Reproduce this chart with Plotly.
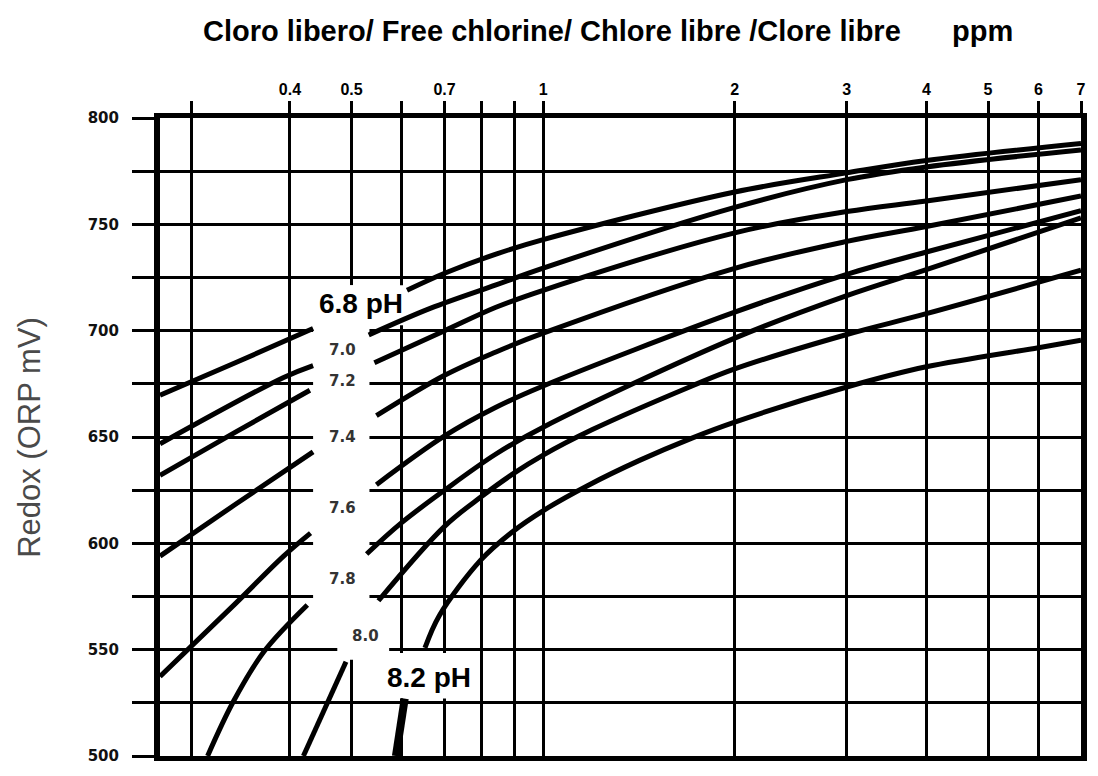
import math
import plotly.graph_objects as go

# ---------------- data ----------------
ph_names = ["6.8", "7.0", "7.2", "7.4", "7.6", "7.8", "8.0", "8.2"]

# free chlorine (ppm) / redox (mV); None = gap where the label sits
x68 = [0.25, 0.329, 0.435, None, 0.611, 0.7, 0.843, 1.0, 2.0, 3.0, 4.0, 7.0]
y68 = [669.6, 685, 701, None, 719, 727, 736, 742.8, 765.2, 774.2, 780, 788]

x70 = [0.25, 0.391, 0.435, None, 0.532, 0.666, 0.843, 1.0, 2.0, 3.0, 4.0, 7.0]
y70 = [646.8, 678, 683.6, None, 698, 710.6, 721.5, 729.4, 758, 771, 777, 785]

x72 = [0.25, 0.329, 0.430, None, 0.543, 0.7, 0.843, 1.0, 2.0, 3.0, 4.0, 7.0]
y72 = [632, 652.4, 672, None, 684.9, 700, 711, 719, 746, 756, 761, 771]

x74 = [0.25, 0.329, 0.435, None, 0.547, 0.7, 0.843, 1.0, 2.0, 3.0, 4.0, 7.0]
y74 = [594, 618.5, 643, None, 660, 679, 690, 698.8, 729.3, 742, 749, 763.3]

x76 = [0.25, 0.329, 0.391, 0.431, None, 0.547, 0.7, 0.843, 1.0, 2.0, 3.0, 4.0, 7.0]
y76 = [537.4, 571.9, 594, 604.8, None, 627.6, 650.5, 664, 674, 708.7, 726.5, 737, 756.4]

x78 = [0.297, 0.326, 0.364, 0.426, None, 0.528, 0.598, 0.7, 0.843, 1.0, 2.0, 3.0, 4.0, 7.0]
y78 = [500, 525.6, 549, 571, None, 595, 609.5, 625, 642, 654.6, 696.5, 716.5, 728.7, 753]

x80 = [0.42, 0.490, None, 0.551, 0.7, 0.8, 0.9, 1.0, 1.195, 1.713, 2.0, 3.0, 4.0, 7.0]
y80 = [500, 544.3, None, 573, 608, 622, 633, 641.5, 653.5, 674, 682, 698.2, 708, 728.4]

x82 = [0.587, 0.606, None, 0.652, 0.687, 0.797, 0.891, 1.008, 1.172, 1.417, 1.713, 2.0, 3.0, 4.0, 6.0, 7.0]
y82 = [500, 527, None, 550.8, 566.1, 592, 605, 616, 627, 639, 649.5, 657, 673.5, 683, 692, 695.5]

curves_x = [x68, x70, x72, x74, x76, x78, x80, x82]
curves_y = [y68, y70, y72, y74, y76, y78, y80, y82]

# axis ticks / grid
x_gridvals = [0.28, 0.4, 0.5, 0.6, 0.7, 0.8, 0.9, 1, 2, 3, 4, 5, 6, 7]
x_ticktext = ["", "0.4", "0.5", "", "0.7", "", "", "1", "2", "3", "4", "5", "6", "7"]
y_gridvals = list(range(500, 801, 25))
y_ticktext = [str(v) if v % 50 == 0 else "" for v in y_gridvals]

# curve labels: text, ppm, mV
label_text = ["6.8 pH", "7.0", "7.2", "7.4", "7.6", "7.8", "8.0", "8.2 pH"]
label_ppm = [0.518, 0.484, 0.484, 0.484, 0.484, 0.484, 0.526, 0.662]
label_mv = [712.9, 691, 676.1, 650.0, 616.5, 583.4, 556.4, 536.8]

# ---------------- figure ----------------
fig = go.Figure()
for i, (xs, ys, nm) in enumerate(zip(curves_x, curves_y, ph_names)):
    if i == len(ph_names) - 1:
        # 8.2: the short starting stub is drawn heavier, as in the original
        k = xs.index(None)
        parts = [(xs[:k], ys[:k], 8), (xs[k + 1:], ys[k + 1:], 5)]
    else:
        parts = [(xs, ys, 5)]
    for px_, py_, w in parts:
        fig.add_trace(go.Scatter(
            x=px_, y=py_, mode="lines", name="pH " + nm, connectgaps=False,
            line=dict(color="black", width=w, shape="spline", smoothing=1.0),
            showlegend=False, hoverinfo="skip"))

# white areas behind the labels (gridlines interrupted there)
masks = [
    (0.435, 0.5334, 554.5, 721.3),
    (0.426, 0.615, 702.6, 721.3),
    (0.4748, 0.5728, 545.2, 561.5),
    (0.5666, 0.775, 527.0, 548.4),
]
for x0, x1, y0, y1 in masks:
    fig.add_shape(type="rect", xref="x", yref="y", x0=x0, x1=x1, y0=y0, y1=y1,
                  fillcolor="white", line=dict(width=0), layer="between")

for t, px, mv in zip(label_text, label_ppm, label_mv):
    big = "pH" in t
    fig.add_annotation(
        x=math.log10(px), y=mv, xref="x", yref="y", text=t, showarrow=False,
        font=dict(family="Liberation Sans Narrow, Liberation Sans, Arial, sans-serif" if big else "DejaVu Sans, Verdana, sans-serif",
                  size=28 if big else 15, color="black" if big else "#333333", weight="bold"),
        xanchor="center", yanchor="middle")

# titles
fig.add_annotation(x=0.426, y=1.1366, xref="paper", yref="paper",
                   text="Cloro libero/ Free chlorine/ Chlore libre /Clore libre",
                   showarrow=False, xanchor="center", yanchor="middle",
                   font=dict(family="Liberation Sans, Arial, sans-serif", size=29, color="black", weight="bold"))
fig.add_annotation(x=0.893, y=1.1366, xref="paper", yref="paper", text="ppm",
                   showarrow=False, xanchor="center", yanchor="middle",
                   font=dict(family="Liberation Sans, Arial, sans-serif", size=29, color="black", weight="bold"))
fig.add_annotation(x=-0.1424, y=0.5, xref="paper", yref="paper", text="Redox (ORP mV)",
                   textangle=-90, showarrow=False, xanchor="center", yanchor="middle",
                   font=dict(family="Liberation Sans, Arial, sans-serif", size=31, color="#4a4a4a"))

fig.update_xaxes(
    type="log", range=[math.log10(0.25), math.log10(7)], side="top",
    tickmode="array", tickvals=x_gridvals, ticktext=x_ticktext,
    showgrid=True, gridcolor="black", gridwidth=3,
    ticks="outside", ticklen=12, tickwidth=3, tickcolor="black",
    ticklabelstandoff=0,
    tickfont=dict(family="Liberation Sans, Arial, sans-serif", size=16, color="black", weight="bold"),
    showline=True, linecolor="black", linewidth=5, mirror=True,
    zeroline=False, fixedrange=True)
fig.update_yaxes(
    range=[500, 800], tickmode="array", tickvals=y_gridvals, ticktext=y_ticktext,
    showgrid=True, gridcolor="black", gridwidth=3,
    ticks="outside", ticklen=22, tickwidth=3, tickcolor="black",
    ticklabelstandoff=10,
    tickfont=dict(family="DejaVu Sans, Verdana, sans-serif", size=15, color="#111111", weight="bold"),
    showline=True, linecolor="black", linewidth=6, mirror=True,
    zeroline=False, fixedrange=True)

# the page adds an 8 px body margin, so the figure is 8 px smaller each way
fig.update_layout(
    width=1090, height=768, autosize=False,
    margin=dict(l=152, r=11, t=110, b=14),
    paper_bgcolor="white", plot_bgcolor="white",
    showlegend=False)

fig.write_html("out.html")
